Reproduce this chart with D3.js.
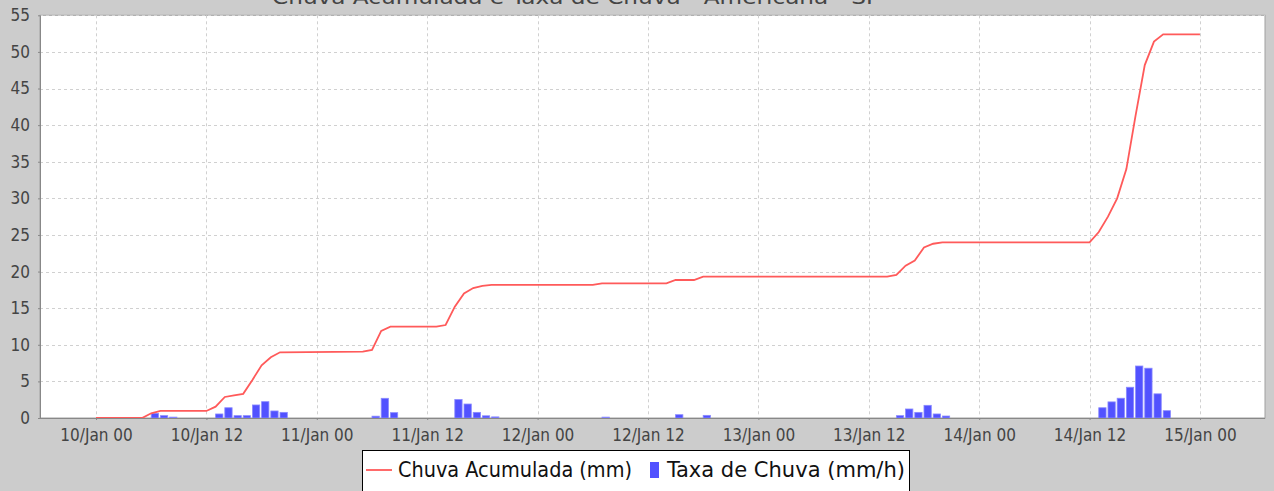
<!DOCTYPE html>
<html>
<head>
<meta charset="utf-8">
<script src="https://cdn.jsdelivr.net/npm/d3@7"></script>
<style>
  body { margin: 0; background: #cccccc; }
  svg { display: block; }
  text { font-family: "DejaVu Sans Condensed", "DejaVu Sans", sans-serif; }
</style>
</head>
<body>
<svg width="1274" height="491"></svg>
<script>
// hours counted from 10/Jan 00:00
var accumHours  = [0, 5, 6, 7, 12, 13, 14, 15, 16, 17, 18, 19, 20, 29, 30, 31, 32, 37, 38, 39, 40, 41, 42, 43,
                   54, 55, 62, 63, 65, 66, 86, 87, 88, 89, 90, 91, 92, 108, 109, 110, 111, 112, 113, 114, 115, 116, 120];
var accumValues = [0, 0, 0.64, 0.96, 0.96, 1.55, 2.87, 3.1, 3.3, 5.2, 7.2, 8.3, 8.97, 9.06, 9.3, 11.9, 12.47, 12.47, 12.7, 15.2, 17.0, 17.75, 18.05, 18.17,
                   18.17, 18.4, 18.4, 18.85, 18.85, 19.3, 19.3, 19.55, 20.8, 21.5, 23.3, 23.8, 24.0, 24.0, 25.4, 27.5, 30.0, 34.0, 41.3, 48.2, 51.4, 52.4, 52.4];

var rateHours  = [6, 7, 8, 13, 14, 15, 16, 17, 18, 19, 20, 30, 31, 32, 39, 40, 41, 42, 43, 55, 63, 66,
                  87, 88, 89, 90, 91, 92, 109, 110, 111, 112, 113, 114, 115, 116];
var rateValues = [0.64, 0.32, 0.12, 0.55, 1.4, 0.32, 0.32, 1.78, 2.23, 0.96, 0.77, 0.25, 2.69, 0.73, 2.52, 1.91, 0.77, 0.3, 0.15, 0.12, 0.45, 0.36,
                  0.32, 1.23, 0.77, 1.73, 0.55, 0.27, 1.4, 2.2, 2.7, 4.2, 7.1, 6.8, 3.3, 1.0];

var yTicks = d3.range(0, 56, 5);
var seriesNames = ['Chuva Acumulada (mm)', 'Taxa de Chuva (mm/h)'];
var chartTitle = 'Chuva Acumulada e Taxa de Chuva - Americana - SP';

var svg = d3.select('svg');
var HOUR = 3600 * 1000;
var t0 = Date.UTC(2011, 0, 10, 0, 0);
function toDate(h){ return new Date(t0 + h * HOUR); }

// plot area box
var plotLeft = 40, plotRight = 1265, plotTop = 15.3, plotBottom = 418;

var x = d3.scaleUtc()
    .domain([toDate(-6.09), toDate(127.07)])
    .range([plotLeft, plotRight]);
var y = d3.scaleLinear()
    .domain([0, 55])
    .range([plotBottom, plotTop]);

// title, mostly cut off above the picture
svg.append('text')
  .attr('x', 272).attr('y', 4)
  .attr('textLength', 608).attr('lengthAdjust', 'spacingAndGlyphs')
  .style('font-size', '20px').style('fill', '#444')
  .text(chartTitle);

// plot background
svg.append('rect')
  .attr('x', plotLeft).attr('y', plotTop)
  .attr('width', plotRight - plotLeft).attr('height', plotBottom - plotTop)
  .style('fill', '#fff')
  .style('stroke', '#a0a0a0');

var xTicks = d3.utcHour.every(12).range(toDate(0), toDate(121));

// grid
var gridColor = '#d0d0d0';
svg.append('g').selectAll('line')
  .data(yTicks.slice(1))
  .enter().append('line')
  .attr('x1', plotLeft).attr('x2', plotRight)
  .attr('y1', function(d){ return Math.round(y(d)) + 0.5; })
  .attr('y2', function(d){ return Math.round(y(d)) + 0.5; })
  .style('stroke', gridColor).style('stroke-dasharray', '3,3');

svg.append('g').selectAll('line')
  .data(xTicks)
  .enter().append('line')
  .attr('x1', function(d){ return Math.round(x(d)) + 0.5; })
  .attr('x2', function(d){ return Math.round(x(d)) + 0.5; })
  .attr('y1', plotTop).attr('y2', plotBottom)
  .style('stroke', gridColor).style('stroke-dasharray', '3,3');

// rain rate bars
svg.append('g').selectAll('rect')
  .data(rateHours)
  .enter().append('rect')
  .attr('x', function(h){ return x(toDate(h)); })
  .attr('width', function(h){ return x(toDate(h + 1)) - x(toDate(h)) - 1.9; })
  .attr('y', function(h, i){ return y(rateValues[i]); })
  .attr('height', function(h, i){ return plotBottom - y(rateValues[i]); })
  .style('fill', '#5252ff')
  .style('stroke', '#8a8aff')
  .style('stroke-width', 0.8);

// accumulated line
var line = d3.line()
  .x(function(h){ return x(toDate(h)); })
  .y(function(h, i){ return y(accumValues[i]); });

svg.append('path')
  .datum(accumHours)
  .attr('d', line)
  .style('fill', 'none')
  .style('stroke', '#ff5a5a')
  .style('stroke-width', 1.8);

// axes
var yAxis = d3.axisLeft(y).tickValues(yTicks).tickSize(2).tickPadding(8);
var gy = svg.append('g').attr('transform', 'translate(' + plotLeft + ',0)').call(yAxis);
var xAxis = d3.axisBottom(x).tickValues(xTicks).tickSize(2).tickPadding(9)
  .tickFormat(d3.utcFormat('%d/%b %H'));
var gx = svg.append('g').attr('transform', 'translate(0,' + plotBottom + ')').call(xAxis);

[gx, gy].forEach(function(g){
  g.select('.domain').style('stroke', '#888');
  g.selectAll('.tick line').style('stroke', '#888');
  g.selectAll('.tick text')
    .style('font-family', '"DejaVu Sans Condensed", "DejaVu Sans", sans-serif')
    .style('font-size', '17px')
    .style('fill', '#444');
});
gy.select('.domain').attr('d', 'M0.5,' + plotTop + 'V' + (plotBottom + 0.5));
gx.select('.domain').attr('d', 'M' + plotLeft + ',0.5H' + plotRight);

// legend
var legend = svg.append('g');
legend.append('rect')
  .attr('x', 362.5).attr('y', 450.5)
  .attr('width', 547).attr('height', 42)
  .style('fill', '#fff').style('stroke', '#000');
legend.append('line')
  .attr('x1', 366).attr('x2', 392).attr('y1', 470).attr('y2', 470)
  .style('stroke', '#ff5a5a').style('stroke-width', 1.8);
legend.append('text')
  .attr('x', 398).attr('y', 477)
  .attr('textLength', 234).attr('lengthAdjust', 'spacingAndGlyphs')
  .style('font-size', '21.5px').style('fill', '#111')
  .text(seriesNames[0]);
legend.append('rect')
  .attr('x', 650).attr('y', 462).attr('width', 9).attr('height', 16)
  .style('fill', '#5252ff');
legend.append('text')
  .attr('x', 667).attr('y', 477)
  .attr('textLength', 238).attr('lengthAdjust', 'spacingAndGlyphs')
  .style('font-size', '21.5px').style('fill', '#111')
  .text(seriesNames[1]);
</script>
</body>
</html>
